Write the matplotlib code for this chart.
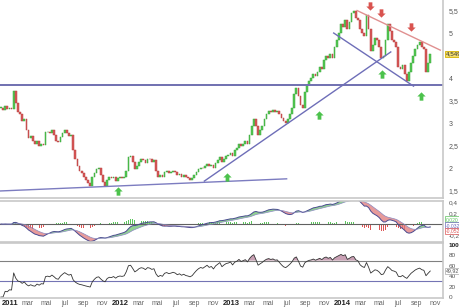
import numpy as np
import pandas as pd
import matplotlib
matplotlib.use("Agg")
import matplotlib.pyplot as plt

# weekly closes (Dec 2010 -> Oct 2014)
closes = [
    3.35, 3.30, 3.38, 3.32, 3.35, 3.33, 3.72, 3.45, 3.25, 3.20,
    3.05, 3.10, 2.85, 2.68, 2.72, 2.60, 2.55, 2.62, 2.50, 2.55,
    2.52, 2.80, 2.82, 2.78, 2.85, 2.75, 2.62, 2.58, 2.70, 2.78,
    2.85, 2.78, 2.72, 2.75, 2.40, 2.20, 2.05, 1.95, 1.90, 1.82,
    1.75, 1.68, 1.62, 1.80, 1.90, 1.98, 2.00, 1.85, 1.70, 1.62,
    1.75, 1.80, 1.78, 1.82, 1.72, 1.78, 1.80, 1.78, 1.80, 1.95,
    2.25, 2.28, 2.15, 1.98, 2.05, 2.15, 2.20, 2.18, 2.12, 2.22,
    2.20, 2.15, 2.18, 1.95, 1.80, 1.85, 1.80, 1.92, 1.95, 1.90,
    1.92, 1.95, 1.92, 1.85, 1.88, 1.82, 1.85, 1.80, 1.78, 1.75,
    1.78, 1.85, 1.92, 1.98, 2.02, 2.00, 2.05, 2.10, 2.05, 2.08,
    2.02, 2.12, 2.18, 2.25, 2.15, 2.22, 2.28, 2.30, 2.35, 2.28,
    2.40, 2.45, 2.55, 2.50, 2.55, 2.60, 2.55, 2.75, 2.95, 3.10,
    2.95, 2.75, 2.85, 2.95, 3.10, 3.22, 3.28, 3.25, 3.30, 3.26,
    3.28, 3.20, 3.12, 3.05, 3.02, 3.10, 3.20, 3.35, 3.65, 3.78,
    3.62, 3.40, 3.35, 3.70, 3.85, 3.95, 4.00, 4.10, 4.05, 4.15,
    4.25, 4.20, 4.40, 4.50, 4.45, 4.55, 4.45, 4.70, 4.85, 5.00,
    5.20, 5.15, 5.30, 5.10, 5.25, 5.45, 5.50, 5.35, 5.30, 5.10,
    5.00, 4.95, 5.40, 5.10, 4.60, 4.75, 4.90, 4.85, 4.70, 4.45,
    4.50, 4.85, 5.20, 5.05, 4.85, 4.80, 4.70, 4.25, 4.20, 4.30,
    4.10, 3.95, 4.15, 4.35, 4.50, 4.65, 4.75, 4.82, 4.70, 4.65,
    4.15, 4.35, 4.549,
]
first_week = "2010-12-03"
last_price = "4,549"
rsi_label = "49,92"
macd_labels = ["0,020", "-0,032", "-0,052"]

# analyst trendlines: (start date, start price, end date, end price, colour)
support_level = 3.85
trend_lines = [
    ("2010-11-30", 1.50, "2013-07-01", 1.77, "#7c7cc0"),
    ("2012-10-03", 1.72, "2014-06-09", 4.59, "#6e6eb8"),
    ("2013-12-03", 5.01, "2014-08-23", 3.83, "#6e6eb8"),
    ("2014-02-18", 5.51, "2014-11-19", 4.63, "#e09090"),
]
up_arrows = [("2011-12-25", 1.50), ("2012-12-17", 1.81), ("2013-10-16", 3.19),
             ("2014-05-10", 4.10), ("2014-09-15", 3.61)]
down_arrows = [("2014-04-01", 5.61), ("2014-05-07", 5.46), ("2014-08-13", 5.14)]

month_fr = {1: "", 3: "mar", 5: "mai", 7: "jul", 9: "sep", 11: "nov"}

# ---------------------------
# indicators
# ---------------------------
dates = pd.date_range(first_week, periods=len(closes), freq="7D")
s = pd.Series(closes, index=dates)
opens = s.shift(1).fillna(s.iloc[0])
macd = s.ewm(span=12, adjust=False).mean() - s.ewm(span=26, adjust=False).mean()
signal = macd.ewm(span=9, adjust=False).mean()
hist = macd - signal
delta = s.diff()
gain = delta.clip(lower=0).ewm(alpha=1/14, adjust=False).mean()
loss = (-delta.clip(upper=0)).ewm(alpha=1/14, adjust=False).mean()
rsi = (100 - 100 / (1 + gain / loss)).bfill()

# ---------------------------
# figure
# ---------------------------
plt.rcParams["font.family"] = ["Liberation Sans", "DejaVu Sans"]
fig = plt.figure(figsize=(4.6, 3.08), dpi=100)
W = 443 / 460
ax = fig.add_axes([0, 1 - 198 / 308, W, 198 / 308])
axm = fig.add_axes([0, 1 - 242 / 308, W, 41 / 308], sharex=ax)
axr = fig.add_axes([0, 1 - 298 / 308, W, 55 / 308], sharex=ax)

xmin, xmax = pd.Timestamp("2010-11-30"), pd.Timestamp("2014-11-28")
grey = "#c8c8c8"
for a in (ax, axm, axr):
    a.set_xlim(xmin, xmax)
    a.yaxis.tick_right()
    a.tick_params(axis="y", length=0, labelsize=5, labelcolor="#555555", pad=4)
    a.spines["left"].set_visible(False)
    for sp in ("top", "bottom", "right"):
        a.spines[sp].set_color(grey)
        a.spines[sp].set_linewidth(1.2)
ax.spines["top"].set_visible(False)

# candles
up = s >= opens
body = (s - opens).where((s - opens).abs() > 0.012, 0.02)
ax.bar(dates, body, bottom=opens, width=5.8,
       color=np.where(up, "#52c852", "#d95757"),
       edgecolor=np.where(up, "#3ea83e", "#b84444"), linewidth=0.35)

ax.axhline(support_level, color="#7070b0", lw=1.4)
for d0, p0, d1, p1, c in trend_lines:
    ax.plot([pd.Timestamp(d0), pd.Timestamp(d1)], [p0, p1], color=c, lw=1)

arrow = [(0, 1), (-1, 0), (-0.45, 0), (-0.45, -1), (0.45, -1), (0.45, 0), (1, 0), (0, 1)]
arrow_dn = [(x, -y) for x, y in arrow]
ax.plot([pd.Timestamp(d) for d, _ in up_arrows], [p for _, p in up_arrows],
        ls="none", marker=arrow, ms=6, color="#4cc24c", mew=0)
ax.plot([pd.Timestamp(d) for d, _ in down_arrows], [p for _, p in down_arrows],
        ls="none", marker=arrow_dn, ms=6, color="#d9534f", mew=0)

ax.set_ylim(1.344, 5.744)
ax.set_yticks([1.5, 2, 2.5, 3, 3.5, 4, 5, 5.5])
ax.set_yticklabels(["1,5", "2", "2,5", "3", "3,5", "4", "5", "5,5"])
ax.text(1.006, closes[-1], last_price, transform=ax.get_yaxis_transform(),
        fontsize=4.5, va="center", ha="left", color="#333333",
        bbox=dict(boxstyle="square,pad=0.12", fc="#f3dc6b", ec="#d6b300", lw=0.6))

# MACD panel
axm.axhline(0, color="#606060", lw=0.8)
axm.bar(dates, hist, width=2.2, color=np.where(hist >= 0, "#5cc45c", "#dd5555"), linewidth=0)
axm.fill_between(dates, macd, signal, where=macd >= signal, color="#6cc46c", alpha=0.75, lw=0, interpolate=True)
axm.fill_between(dates, macd, signal, where=macd < signal, color="#e07878", alpha=0.75, lw=0, interpolate=True)
axm.plot(dates, macd, color="#4a4a90", lw=0.7)
axm.plot(dates, signal, color="#8a8ac0", lw=0.5)
axm.set_ylim(-0.327, 0.418)
axm.set_yticks([-0.2, 0.2, 0.4])
axm.set_yticklabels(["-0,2", "0,2", "0,4"])
axm.tick_params(axis="y", labelsize=4.6)
for yv, txt, ec in zip([0.085, -0.025, -0.125], macd_labels, ["#5cc45c", "#6a6ab8", "#dd5555"]):
    axm.text(1.006, yv, txt, transform=axm.get_yaxis_transform(), fontsize=3.6,
             va="center", ha="left", color=ec,
             bbox=dict(boxstyle="square,pad=0.08", fc="white", ec=ec, lw=0.5))

# RSI panel
axr.axhline(70, color="#808080", lw=0.8)
axr.axhline(30, color="#7474b4", lw=0.8)
axr.fill_between(dates, rsi, 70, where=rsi > 70, color="#c9a0b4", lw=0, interpolate=True)
axr.plot(dates, rsi, color="#333333", lw=0.6)
axr.set_ylim(-1.9, 103.8)
axr.set_yticks([0, 20, 40, 60, 80, 100])
axr.set_yticklabels(["0", "20", "40", "60", "80", "100"])
axr.tick_params(axis="y", labelsize=4.6)
axr.get_yticklabels()[-1].set_fontweight("bold")
axr.get_yticklabels()[-1].set_color("#222222")
axr.text(1.006, 50, rsi_label, transform=axr.get_yaxis_transform(), fontsize=3.8,
         va="center", ha="left", color="#555555",
         bbox=dict(boxstyle="square,pad=0.08", fc="white", ec="#aaaaaa", lw=0.5))

# x axis labels (French months)
ticks, labels = [], []
for yr in range(2011, 2015):
    for m, name in month_fr.items():
        t = pd.Timestamp(yr, m, 1)
        if t < xmax:
            ticks.append(t)
            labels.append(str(yr) if m == 1 else name)
for a in (ax, axm):
    a.tick_params(axis="x", length=0, labelbottom=False)
axr.set_xticks(ticks)
axr.set_xticklabels(labels)
axr.tick_params(axis="x", length=0, labelsize=5, labelcolor="#666666", pad=1.5)
for lab in axr.get_xticklabels():
    if lab.get_text().isdigit():
        lab.set_fontweight("bold")
        lab.set_color("#222222")
        lab.set_fontsize(5.5)

fig.savefig("out.png", dpi=100)
